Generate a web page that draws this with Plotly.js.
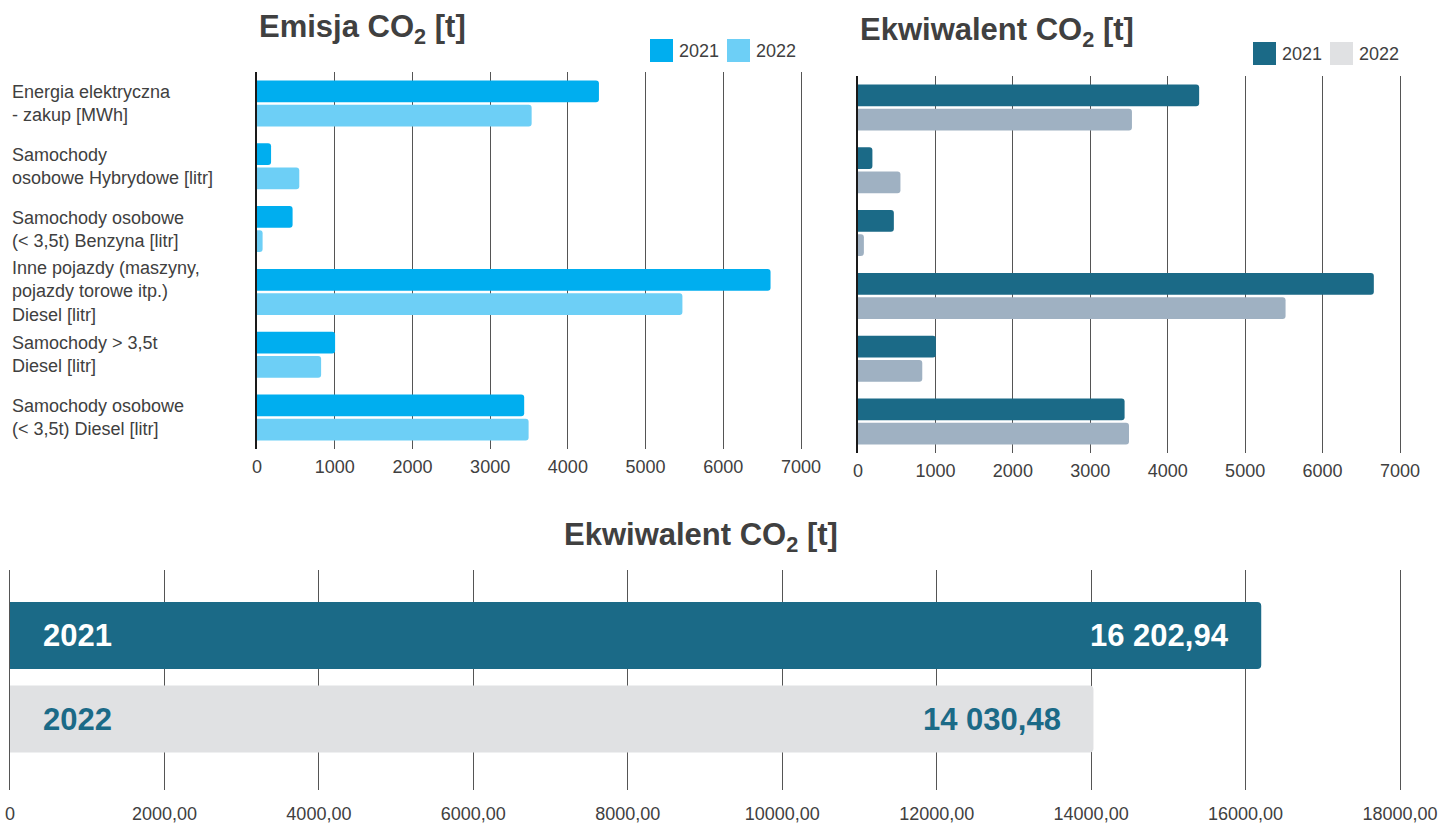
<!DOCTYPE html>
<html><head><meta charset="utf-8">
<script src="https://cdn.plot.ly/plotly-3.0.1.min.js"></script>
<style>html,body{margin:0;padding:0;background:#fff}#chart{width:1439px;height:825px}</style>
</head><body><div id="chart"></div>
<script>
// ---- data ----
const categories = [
  'Energia elektryczna<br>- zakup [MWh]',
  'Samochody<br>osobowe Hybrydowe [litr]',
  'Samochody osobowe<br>(&lt; 3,5t) Benzyna [litr]',
  'Inne pojazdy (maszyny,<br>pojazdy torowe itp.)<br>Diesel [litr]',
  'Samochody &gt; 3,5t<br>Diesel [litr]',
  'Samochody osobowe<br>(&lt; 3,5t) Diesel [litr]'
];
const emisja2021 = [4400, 181, 458, 6608, 1005, 3438];
const emisja2022 = [3534, 544, 72, 5474, 825, 3495];
const ekwiwalent2021 = [4406, 186, 463, 6662, 1006, 3443];
const ekwiwalent2022 = [3538, 548, 76, 5522, 830, 3500];
const totalYears = ['2021', '2022'];
const totalValues = [16202.94, 14030.48];
const topTickVals = [0, 1000, 2000, 3000, 4000, 5000, 6000, 7000];
const bottomTickVals = [0, 2000, 4000, 6000, 8000, 10000, 12000, 14000, 16000, 18000];
const bottomTickText = ['0', '2000,00', '4000,00', '6000,00', '8000,00', '10000,00', '12000,00', '14000,00', '16000,00', '18000,00'];
const legendYears = ['2021', '2022'];

// ---- styling ----
const W = 1439, H = 825;
const px = x => x / W, py = y => 1 - y / H;
const TXT = '#404040';
const FONT = 'Liberation Sans, Arial, sans-serif';
const C_L21 = '#00aeef', C_L22 = '#6dcff6';
const C_R21 = '#1b6a87', C_R22 = '#9fb1c2', C_R22_LEG = '#e0e1e3';
const C_B21 = '#1b6a87', C_B22 = '#e0e1e3';
const GRID = '#555555';

const catIdx = categories.map((c, i) => i);
const yearIdx = totalYears.map((c, i) => i);
function fmt(v) {
  const parts = v.toFixed(2).split('.');
  return parts[0].replace(/\B(?=(\d{3})+(?!\d))/g, ' ') + ',' + parts[1];
}

const traces = [
  {type: 'bar', orientation: 'h', x: emisja2021, y: catIdx, name: '2021', xaxis: 'x', yaxis: 'y',
   marker: {color: C_L21, cornerradius: 3}, showlegend: false, hoverinfo: 'x'},
  {type: 'bar', orientation: 'h', x: emisja2022, y: catIdx, name: '2022', xaxis: 'x', yaxis: 'y',
   marker: {color: C_L22, cornerradius: 3}, showlegend: false, hoverinfo: 'x'},
  {type: 'bar', orientation: 'h', x: ekwiwalent2021, y: catIdx, name: '2021', xaxis: 'x2', yaxis: 'y2',
   marker: {color: C_R21, cornerradius: 3}, showlegend: false, hoverinfo: 'x'},
  {type: 'bar', orientation: 'h', x: ekwiwalent2022, y: catIdx, name: '2022', xaxis: 'x2', yaxis: 'y2',
   marker: {color: C_R22, cornerradius: 3}, showlegend: false, hoverinfo: 'x'},
  {type: 'bar', orientation: 'h', x: totalValues, y: yearIdx, xaxis: 'x3', yaxis: 'y3', width: 0.8,
   marker: {color: [C_B21, C_B22], cornerradius: 4}, showlegend: false, hoverinfo: 'x'}
];

const annotations = [];
categories.forEach((c, i) => annotations.push({
  xref: 'paper', yref: 'y', x: px(10), y: i, xanchor: 'left', yanchor: 'middle', align: 'left',
  text: c, showarrow: false, font: {family: FONT, size: 18, color: TXT}
}));
[[257, 29, 'left', 'Emisja CO<sub>2</sub> [t]'], [858, 32, 'left', 'Ekwiwalent CO<sub>2</sub> [t]'],
 [701, 537, 'center', 'Ekwiwalent CO<sub>2</sub> [t]']].forEach(t => annotations.push({
  xref: 'paper', yref: 'paper', x: px(t[0]), y: py(t[1]), xanchor: t[2], yanchor: 'middle',
  text: '<b>' + t[3] + '</b>', showarrow: false, font: {family: FONT, size: 31, color: TXT}
}));
totalYears.forEach((yr, i) => {
  const col = i === 0 ? '#ffffff' : C_B21;
  annotations.push({xref: 'x3', yref: 'y3', x: 0, y: yearIdx[i], xanchor: 'left', xshift: 31, yanchor: 'middle',
    text: '<b>' + yr + '</b>', showarrow: false, font: {family: FONT, size: 31, color: col}});
  annotations.push({xref: 'x3', yref: 'y3', x: totalValues[i], y: yearIdx[i], xanchor: 'right', xshift: -30, yanchor: 'middle',
    text: '<b>' + fmt(totalValues[i]) + '</b>', showarrow: false, font: {family: FONT, size: 31, color: col}});
});

// manual legends (large square swatches)
const shapes = [];
const legends = [
  {x0: 650, y0: 39, colors: [C_L21, C_L22]},
  {x0: 1253, y0: 42, colors: [C_R21, C_R22_LEG]}
];
legends.forEach(L => {
  legendYears.forEach((yr, k) => {
    const sx = L.x0 + k * 77;
    shapes.push({type: 'rect', xref: 'paper', yref: 'paper', x0: px(sx), x1: px(sx + 23),
      y0: py(L.y0 + 23), y1: py(L.y0), fillcolor: L.colors[k], line: {width: 0}});
    annotations.push({xref: 'paper', yref: 'paper', x: px(sx + 27), y: py(L.y0 + 12), xanchor: 'left', yanchor: 'middle',
      text: yr, showarrow: false, font: {family: FONT, size: 18, color: TXT}});
  });
});

const topX = (d0, d1, zeroPx, maxPx) => ({
  domain: [px(d0), px(d1)], range: [0, 7000 * (d1 - zeroPx) / (maxPx - zeroPx)],
  tickvals: topTickVals, ticktext: topTickVals.map(String), showgrid: true, gridcolor: GRID, gridwidth: 1,
  zeroline: false, showline: false, ticks: '', ticklabelstandoff: 5,
  tickfont: {family: FONT, size: 18, color: TXT}, fixedrange: true
});
const catY = (d0, d1, anchor) => ({
  domain: [py(d1), py(d0)], range: [5.5, -0.5], showticklabels: false, showgrid: false, zeroline: false,
  showline: true, linecolor: '#1a1a1a', linewidth: 2, ticks: '', anchor: anchor, fixedrange: true
});

const layout = {
  width: W, height: H, margin: {l: 0, r: 0, t: 0, b: 0}, paper_bgcolor: '#fff', plot_bgcolor: 'rgba(0,0,0,0)',
  barmode: 'group', bargap: 0.23, bargroupgap: 0.1, showlegend: false,
  font: {family: FONT, color: TXT},
  xaxis: Object.assign(topX(257, 805, 257, 801), {anchor: 'y'}),
  yaxis: catY(72, 449, 'x'),
  xaxis2: Object.assign(topX(858, 1404, 858, 1400), {anchor: 'y2'}),
  yaxis2: catY(76, 453, 'x2'),
  xaxis3: {domain: [px(10), px(1403)], range: [0, 18000 * 1393 / 1390], anchor: 'y3',
    tickvals: bottomTickVals, ticktext: bottomTickText, showgrid: true, gridcolor: GRID, gridwidth: 1,
    zeroline: false, ticks: '', ticklabelstandoff: 11, tickfont: {family: FONT, size: 18, color: TXT}, fixedrange: true},
  yaxis3: {domain: [py(790), py(570)], range: [1.85, -0.784], anchor: 'x3',
    showticklabels: false, showgrid: false, zeroline: false, showline: true, linecolor: GRID, linewidth: 1,
    ticks: '', fixedrange: true},
  annotations: annotations, shapes: shapes
};

Plotly.newPlot('chart', traces, layout, {displayModeBar: false, staticPlot: true});
</script></body></html>
